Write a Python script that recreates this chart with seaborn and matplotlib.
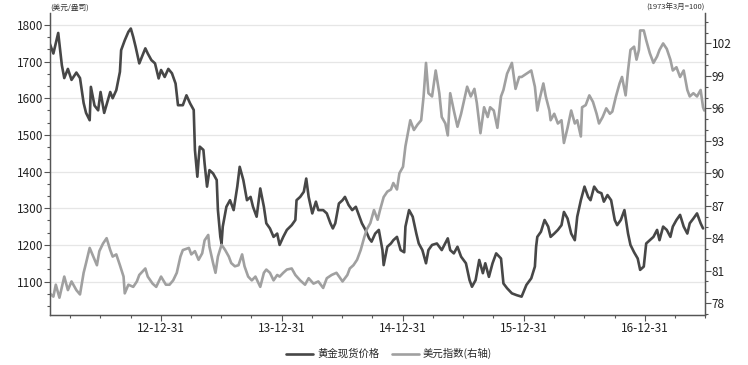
import numpy as np
import pandas as pd
import matplotlib
matplotlib.use('Agg')
import matplotlib.pyplot as plt
import matplotlib.dates as mdates
from matplotlib.ticker import MultipleLocator
import seaborn as sns

# positions are decimal years, 2013.00 == 2012-12-31
gold_t = [2012.08, 2012.11, 2012.15, 2012.18, 2012.20, 2012.23, 2012.26, 2012.30, 2012.33, 2012.36,
          2012.38, 2012.41, 2012.42, 2012.45, 2012.48, 2012.50, 2012.53, 2012.58, 2012.60, 2012.63,
          2012.66, 2012.67, 2012.70, 2012.73, 2012.75, 2012.77, 2012.79, 2012.82, 2012.87, 2012.89,
          2012.92, 2012.95, 2012.98, 2013.00, 2013.03, 2013.06, 2013.09, 2013.12, 2013.14, 2013.18,
          2013.21, 2013.24, 2013.27, 2013.28, 2013.30, 2013.31, 2013.32, 2013.35, 2013.36, 2013.38,
          2013.40, 2013.43, 2013.46, 2013.47, 2013.49, 2013.50, 2013.51, 2013.54, 2013.57, 2013.60,
          2013.63, 2013.65, 2013.68, 2013.71, 2013.74, 2013.76, 2013.79, 2013.82, 2013.85, 2013.87,
          2013.90, 2013.93, 2013.96, 2013.98, 2014.01, 2014.04, 2014.08, 2014.11, 2014.12, 2014.15,
          2014.18, 2014.20, 2014.22, 2014.25, 2014.28, 2014.30, 2014.34, 2014.37, 2014.40, 2014.42,
          2014.44, 2014.47, 2014.50, 2014.52, 2014.55, 2014.58, 2014.61, 2014.63, 2014.66, 2014.69,
          2014.72, 2014.74, 2014.77, 2014.80, 2014.83, 2014.84, 2014.87, 2014.90, 2014.92, 2014.95,
          2014.98, 2015.01, 2015.02, 2015.05, 2015.08, 2015.11, 2015.13, 2015.16, 2015.19, 2015.21,
          2015.24, 2015.28, 2015.32, 2015.37, 2015.39, 2015.42, 2015.45, 2015.48, 2015.52, 2015.55,
          2015.57, 2015.60, 2015.63, 2015.66, 2015.68, 2015.71, 2015.74, 2015.77, 2015.81, 2015.83,
          2015.86, 2015.90, 2015.94, 2015.98, 2016.02, 2016.06, 2016.09, 2016.10, 2016.11, 2016.14,
          2016.17, 2016.20, 2016.22, 2016.25, 2016.28, 2016.31, 2016.33, 2016.36, 2016.39, 2016.42,
          2016.44, 2016.47, 2016.50, 2016.53, 2016.55, 2016.58, 2016.61, 2016.64, 2016.66, 2016.69,
          2016.72, 2016.75, 2016.77, 2016.80, 2016.83, 2016.86, 2016.88, 2016.91, 2016.94, 2016.96,
          2016.99, 2017.01, 2017.04, 2017.07, 2017.10, 2017.12, 2017.15, 2017.18, 2017.21, 2017.23,
          2017.26, 2017.29, 2017.32, 2017.35, 2017.37, 2017.40, 2017.43, 2017.46, 2017.48]
gold_v = [1749, 1722, 1778, 1690, 1655, 1680, 1650, 1670, 1655, 1587,
          1560, 1540, 1631, 1580, 1567, 1617, 1560, 1617, 1600, 1622,
          1672, 1731, 1758, 1781, 1790, 1767, 1740, 1695, 1736, 1722,
          1704, 1695, 1654, 1677, 1658, 1680, 1668, 1640, 1581, 1581,
          1608, 1586, 1568, 1459, 1386, 1431, 1468, 1459, 1422, 1359,
          1404, 1395, 1377, 1295, 1222, 1204, 1250, 1304, 1322, 1295,
          1359, 1413, 1377, 1322, 1331, 1304, 1277, 1354, 1304, 1259,
          1245, 1222, 1231, 1200, 1222, 1241, 1254, 1268, 1322, 1331,
          1345, 1381, 1331, 1286, 1318, 1295, 1295, 1286, 1259, 1245,
          1259, 1313, 1322, 1331, 1309, 1295, 1304, 1286, 1259, 1241,
          1218, 1209, 1231, 1241, 1186, 1145, 1195, 1204, 1213, 1222,
          1186, 1180, 1250, 1295, 1277, 1231, 1204, 1186, 1150, 1186,
          1200, 1204, 1186, 1218, 1186, 1177, 1195, 1168, 1150, 1104,
          1086, 1104, 1159, 1123, 1150, 1113, 1150, 1177, 1163, 1095,
          1082, 1068, 1063, 1059, 1091, 1109, 1141, 1195, 1222, 1236,
          1268, 1250, 1222, 1231, 1241, 1254, 1290, 1272, 1231, 1213,
          1277, 1322, 1359, 1331, 1322, 1359, 1345, 1341, 1318, 1336,
          1322, 1268, 1254, 1268, 1295, 1231, 1200, 1180, 1163, 1132,
          1141, 1204, 1213, 1222, 1241, 1213, 1250, 1241, 1222, 1250,
          1268, 1282, 1250, 1231, 1259, 1272, 1286, 1259, 1245]

usd_t = [2012.08, 2012.11, 2012.13, 2012.16, 2012.20, 2012.23, 2012.26, 2012.30, 2012.33, 2012.36,
         2012.38, 2012.41, 2012.44, 2012.47, 2012.49, 2012.52, 2012.55, 2012.58, 2012.60, 2012.63,
         2012.66, 2012.69, 2012.70, 2012.73, 2012.77, 2012.80, 2012.82, 2012.87, 2012.89, 2012.93,
         2012.96, 2013.00, 2013.04, 2013.07, 2013.10, 2013.13, 2013.16, 2013.18, 2013.23, 2013.25,
         2013.28, 2013.31, 2013.34, 2013.36, 2013.39, 2013.40, 2013.43, 2013.45, 2013.47, 2013.50,
         2013.53, 2013.56, 2013.58, 2013.61, 2013.64, 2013.67, 2013.69, 2013.72, 2013.75, 2013.78,
         2013.82, 2013.85, 2013.87, 2013.90, 2013.93, 2013.96, 2013.98, 2014.01, 2014.04, 2014.08,
         2014.11, 2014.15, 2014.19, 2014.22, 2014.26, 2014.30, 2014.34, 2014.37, 2014.41, 2014.45,
         2014.50, 2014.54, 2014.56, 2014.59, 2014.62, 2014.65, 2014.68, 2014.70, 2014.73, 2014.76,
         2014.79, 2014.81, 2014.84, 2014.87, 2014.90, 2014.92, 2014.95, 2014.97, 2015.00, 2015.02,
         2015.05, 2015.06, 2015.09, 2015.12, 2015.15, 2015.17, 2015.19, 2015.21, 2015.24, 2015.27,
         2015.30, 2015.32, 2015.35, 2015.37, 2015.39, 2015.42, 2015.45, 2015.48, 2015.50, 2015.53,
         2015.56, 2015.59, 2015.61, 2015.64, 2015.67, 2015.70, 2015.72, 2015.75, 2015.78, 2015.81,
         2015.83, 2015.86, 2015.90, 2015.93, 2015.96, 2015.98, 2016.02, 2016.06, 2016.09, 2016.11,
         2016.13, 2016.16, 2016.18, 2016.21, 2016.22, 2016.25, 2016.28, 2016.31, 2016.33, 2016.36,
         2016.39, 2016.42, 2016.44, 2016.47, 2016.48, 2016.51, 2016.54, 2016.57, 2016.60, 2016.62,
         2016.65, 2016.68, 2016.71, 2016.73, 2016.76, 2016.79, 2016.81, 2016.84, 2016.86, 2016.88,
         2016.91, 2016.93, 2016.95, 2016.96, 2016.99, 2017.01, 2017.04, 2017.07, 2017.10, 2017.12,
         2017.15, 2017.18, 2017.21, 2017.23, 2017.26, 2017.29, 2017.32, 2017.35, 2017.37, 2017.40,
         2017.43, 2017.46, 2017.48, 2017.49]
usd_v = [78.9, 78.6, 79.7, 78.5, 80.45, 79.2, 80.0, 79.2, 78.8, 80.8,
         81.7, 83.1, 82.3, 81.5, 82.8, 83.5, 84.0, 82.9, 82.3, 82.5,
         81.5, 80.45, 78.9, 79.7, 79.5, 80.0, 80.6, 81.2, 80.45, 79.8,
         79.5, 80.45, 79.7, 79.7, 80.1, 80.8, 82.3, 82.9, 83.1, 82.5,
         82.8, 82.0, 82.6, 83.8, 84.3, 83.2, 81.7, 80.8, 82.3, 83.4,
         82.9, 82.3, 81.7, 81.4, 81.5, 82.5, 81.4, 80.45, 80.1, 80.45,
         79.5, 80.8, 81.1, 80.8, 80.1, 80.6, 80.45, 80.8, 81.1, 81.2,
         80.6, 80.1, 79.7, 80.3, 79.8, 80.0, 79.4, 80.3, 80.6, 80.8,
         80.0, 80.6, 81.2, 81.5, 82.0, 82.9, 84.1, 84.8, 85.4, 86.6,
         85.7, 86.6, 87.8, 88.3, 88.5, 89.1, 88.5, 90.0, 90.6, 92.5,
         94.3, 94.9, 94.0, 94.5, 94.9, 97.1, 100.2, 97.4, 97.1, 99.5,
         97.4, 95.2, 94.6, 93.5, 97.4, 95.8, 94.3, 95.5, 96.5, 98.0,
         97.1, 97.8, 96.5, 93.7, 96.1, 95.2, 96.1, 95.8, 94.2, 97.1,
         97.7, 99.2, 100.2, 97.8, 98.9, 98.9, 99.2, 99.5, 98.0, 95.8,
         96.9, 98.3, 97.1, 95.8, 94.9, 95.5, 94.6, 94.9, 92.8, 94.2,
         95.8, 94.6, 94.9, 93.4, 96.1, 96.3, 97.2, 96.6, 95.5, 94.6,
         95.2, 96.0, 95.5, 95.7, 97.1, 98.3, 98.9, 97.2, 99.5, 101.4,
         101.7, 100.5, 101.4, 103.2, 103.2, 102.3, 101.1, 100.2, 100.8, 101.4,
         102.0, 101.5, 100.5, 99.5, 99.8, 98.9, 99.5, 97.7, 97.1, 97.4,
         97.1, 97.7, 96.1, 95.8]

year_ticks = ['2012-12-31', '2013-12-31', '2014-12-31', '2015-12-31', '2016-12-31']


def to_date(yrs):
    base = pd.Timestamp('2012-12-31')
    return [base + pd.Timedelta(days=(y - 2013.0) * 365.25) for y in yrs]


gold = pd.DataFrame({'date': to_date(gold_t), 'value': gold_v})
usd = pd.DataFrame({'date': to_date(usd_t), 'value': usd_v})

sns.set_style('ticks')
plt.rcParams['font.family'] = ['Noto Sans CJK SC', 'DejaVu Sans']

fig = plt.figure(figsize=(7.48, 3.65), dpi=100)
ax = fig.add_axes([0.067, 0.137, 0.8755, 0.827])
ax2 = ax.twinx()

gold_c = '#474747'
usd_c = '#a0a0a0'

sns.lineplot(data=gold, x='date', y='value', ax=ax, color=gold_c, lw=1.9, label='黄金现货价格', legend=False)
sns.lineplot(data=usd, x='date', y='value', ax=ax2, color=usd_c, lw=1.9, label='美元指数(右轴)', legend=False)

ax.set_xlim(to_date([2012.083, 2017.496]))
ax.set_ylim(1009, 1832)
ax2.set_ylim(76.9, 104.8)

ax.set_yticks([1100, 1200, 1300, 1400, 1500, 1600, 1700, 1800])
ax.yaxis.set_minor_locator(MultipleLocator(100 / 3))
ax2.set_yticks([78, 81, 84, 87, 90, 93, 96, 99, 102])
ax2.yaxis.set_minor_locator(MultipleLocator(1))

ax.set_xticks(pd.to_datetime(year_ticks))
ax.set_xticks(pd.date_range('2012-03-31', '2017-06-30', freq='QE'), minor=True)
ax.xaxis.set_major_formatter(mdates.DateFormatter('%y-%m-%d'))

ax.grid(axis='y', color='#e6e6e6', lw=0.9)
ax.set_axisbelow(True)
ax.set_xlabel('')
ax.set_ylabel('')
ax2.set_ylabel('')

for a in (ax, ax2):
    a.spines['top'].set_visible(False)
    for s in ('left', 'bottom', 'right'):
        a.spines[s].set_color('#555555')
        a.spines[s].set_linewidth(0.9)
    a.tick_params(which='major', direction='out', length=4, width=0.8, color='#555555',
                  labelsize=8.5, labelcolor='#222222', pad=1)
    a.tick_params(which='minor', direction='out', length=2.5, width=0.8, color='#555555')

ax.text(0.0, 1.005, '(美元/盎司)', transform=ax.transAxes, fontsize=5.5, ha='left', va='bottom', color='#333333')
ax2.text(1.0, 1.005, '(1973年3月=100)', transform=ax2.transAxes, fontsize=5.5, ha='right', va='bottom', color='#333333')

h1, l1 = ax.get_legend_handles_labels()
h2, l2 = ax2.get_legend_handles_labels()
fig.legend(h1 + h2, l1 + l2, loc='lower center', bbox_to_anchor=(0.52, -0.01), ncol=2,
           frameon=False, fontsize=7.5, handlelength=2.6, columnspacing=1.2, handletextpad=0.4)

fig.savefig('out.png', dpi=100)
